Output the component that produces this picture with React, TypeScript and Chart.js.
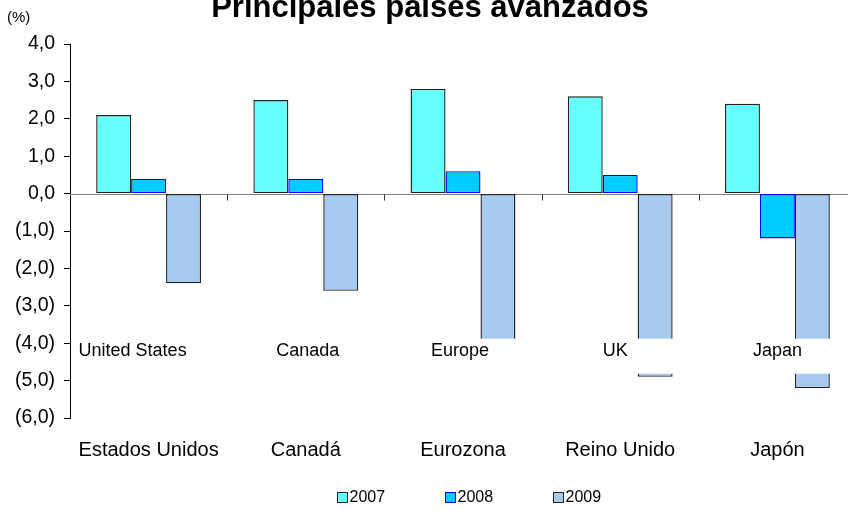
import React, { useEffect, useRef } from 'react';
import { Chart, registerables } from 'chart.js';

Chart.register(...registerables);

// ---- data ----
const categories = ['Estados Unidos', 'Canadá', 'Eurozona', 'Reino Unido', 'Japón'];
const seriesNames = ['2007', '2008', '2009'];
const values2007 = [2.1, 2.5, 2.8, 2.6, 2.4];
const values2008 = [0.4, 0.4, 0.6, 0.5, -1.2];
const values2009 = [-2.4, -2.6, -4.2, -4.9, -5.2];
const annotationLabels = ['United States', 'Canada', 'Europe', 'UK', 'Japan'];
const yMin = -6;
const yMax = 4;
const titleText = 'Principales países avanzados';
const unitText = '(%)';

// ---- styles / layout ----
const FONT = "'Liberation Sans', Arial, Helvetica, sans-serif";
const fills = ['#66FFFF', '#00CCFF', '#A6CAF0'];
const borders = ['#222222', '#0000FF', '#222222'];
const labelShift = [-16, 2, -3, -5, 0];
const labelLevel = -3.88;

const fmt = (v: number) => {
  const s = Math.abs(v).toFixed(1).replace('.', ',');
  return v < 0 ? `(${s})` : s;
};

const decorPlugin = {
  id: 'decor',
  beforeDatasetsDraw(chart: any) {
    const { ctx, chartArea, scales } = chart;
    const x = scales.x;
    const y = scales.y;
    const y0 = Math.round(y.getPixelForValue(0)) + 0.5;
    ctx.save();
    ctx.strokeStyle = '#808080';
    ctx.lineWidth = 1.2;
    ctx.beginPath();
    ctx.moveTo(chartArea.left, y0);
    ctx.lineTo(chartArea.right, y0);
    ctx.stroke();
    ctx.strokeStyle = '#333333';
    ctx.lineWidth = 1;
    for (let i = 1; i < categories.length; i++) {
      const bx = Math.round((x.getPixelForValue(i - 1) + x.getPixelForValue(i)) / 2) + 0.5;
      ctx.beginPath();
      ctx.moveTo(bx, y0);
      ctx.lineTo(bx, y0 + 6);
      ctx.stroke();
    }
    ctx.restore();
  },
  afterDatasetsDraw(chart: any) {
    const { ctx, scales } = chart;
    const x = scales.x;
    const y = scales.y;
    const meta = chart.getDatasetMeta(2);
    ctx.save();
    ctx.font = `18px ${FONT}`;
    ctx.textBaseline = 'middle';
    ctx.textAlign = 'left';
    const top = y.getPixelForValue(labelLevel);
    annotationLabels.forEach((lab, i) => {
      const cx = x.getPixelForValue(i) + labelShift[i];
      const w = ctx.measureText(lab).width;
      const left = cx - w / 2;
      const bar = meta.data[i] as any;
      const right = Math.max(left + w + 4, bar.x + bar.width / 2 + 2);
      ctx.fillStyle = '#FFFFFF';
      ctx.fillRect(left - 4, top, right - (left - 4), 35);
      ctx.fillStyle = '#000000';
      ctx.fillText(lab, left, top + 12);
    });
    ctx.restore();
  },
  afterDraw(chart: any) {
    const { ctx, chartArea } = chart;
    ctx.save();
    // title
    ctx.fillStyle = '#000';
    ctx.font = `bold 31px ${FONT}`;
    ctx.textAlign = 'center';
    ctx.textBaseline = 'alphabetic';
    ctx.fillText(titleText, 430, 17);
    // unit
    ctx.font = `15px ${FONT}`;
    ctx.textAlign = 'left';
    ctx.textBaseline = 'middle';
    ctx.fillText(unitText, 7, 18);
    // legend
    const cx = (chartArea.left + chartArea.right) / 2;
    const ly = chartArea.bottom + 79;
    ctx.font = `16px ${FONT}`;
    chart.data.datasets.forEach((ds: any, i: number) => {
      const bx = Math.round(cx - 126 + i * 108) + 0.5;
      ctx.fillStyle = ds.backgroundColor;
      ctx.fillRect(bx, Math.round(ly - 5) + 0.5, 10, 10);
      ctx.strokeStyle = ds.borderColor;
      ctx.lineWidth = 1;
      ctx.strokeRect(bx, Math.round(ly - 5) + 0.5, 10, 10);
      ctx.fillStyle = '#000';
      ctx.fillText(ds.label, bx + 12, ly + 1);
    });
    ctx.restore();
  },
};

export default function App() {
  const canvasRef = useRef<HTMLCanvasElement | null>(null);

  useEffect(() => {
    const canvas = canvasRef.current;
    if (!canvas) return;
    Chart.defaults.font.family = FONT;
    Chart.defaults.color = '#000';
    const seriesValues = [values2007, values2008, values2009];
    const chart = new Chart(canvas, {
      type: 'bar',
      data: {
        labels: categories,
        datasets: seriesNames.map((name, i) => ({
          label: name,
          data: seriesValues[i],
          backgroundColor: fills[i],
          borderColor: borders[i],
          borderWidth: 1.4,
          borderSkipped: false,
          categoryPercentage: 0.667,
          barPercentage: 1,
        })),
      },
      options: {
        responsive: false,
        animation: false,
        devicePixelRatio: 1,
        layout: { padding: { left: 0, right: 14, top: 44, bottom: 0 } },
        plugins: {
          legend: { display: false },
          title: { display: false },
          tooltip: { enabled: false },
        },
        scales: {
          x: {
            type: 'category',
            offset: true,
            grid: { display: false, drawTicks: false },
            border: { display: false },
            ticks: { font: { size: 20, family: FONT }, color: '#000', padding: 20, maxRotation: 0, autoSkip: false },
            afterFit: (scale: any) => { scale.height = 92; },
          },
          y: {
            min: yMin,
            max: yMax,
            grid: { drawOnChartArea: false, drawTicks: true, tickLength: 6, color: '#000' },
            border: { display: true, color: '#000', width: 1 },
            ticks: {
              stepSize: 1,
              font: { size: 19.5, family: FONT },
              color: '#000',
              padding: 9,
              callback: (v: any) => fmt(Number(v)),
            },
            afterFit: (scale: any) => { scale.width = 70; },
          },
        },
      },
      plugins: [decorPlugin],
    });
    return () => chart.destroy();
  }, []);

  return (
    <div style={{ position: 'fixed', left: 0, top: 0, width: 848, height: 510, overflow: 'hidden', background: '#fff' }}>
      <canvas ref={canvasRef} width={870} height={510} style={{ display: 'block' }} />
    </div>
  );
}
